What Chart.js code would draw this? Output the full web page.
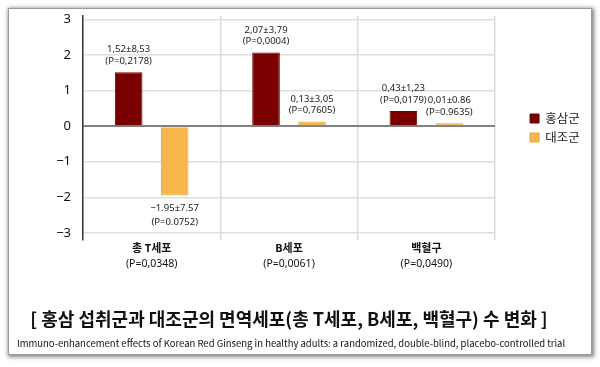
<!DOCTYPE html>
<html><head><meta charset="utf-8">
<script src="https://cdn.jsdelivr.net/npm/chart.js@4.4.1/dist/chart.umd.min.js"></script>
<style>
html,body{margin:0;padding:0;background:#fff;width:600px;height:367px;overflow:hidden}
#frame{position:absolute;left:8px;top:8px;width:584px;height:347px;box-sizing:border-box;border:1px solid #9a9a9a;box-shadow:1px 1px 4px 1px rgba(0,0,0,0.5);background:#fff}
#wrap{position:absolute;left:0;top:0;width:600px;height:367px}
#title{position:absolute;left:0;top:307px;width:578px;text-align:center;font-family:"Noto Sans CJK KR";font-weight:700;font-size:18px;line-height:22px;color:#111;white-space:nowrap}
#subtitle{position:absolute;left:0;top:337px;width:582px;text-align:center;font-family:"Noto Sans CJK KR";font-size:9.5px;line-height:12px;color:#111;white-space:nowrap}
</style></head><body>
<div id="frame"></div>
<div id="wrap"><canvas id="c" width="600" height="367"></canvas></div>
<div id="title"></div>
<div id="subtitle"></div>
<script>
const categories = ['총 T세포', 'B세포', '백혈구'];
const categoryPValues = ['(P=0,0348)', '(P=0,0061)', '(P=0,0490)'];
const seriesNames = ['홍삼군', '대조군'];
const redGinsengValues = [1.52, 2.07, 0.43];
const placeboValues = [-1.95, 0.13, 0.01];
const redGinsengLabels = [['1,52±8,53', '(P=0,2178)'], ['2,07±3,79', '(P=0,0004)'], ['0,43±1,23', '(P=0,0179)']];
const placeboLabels = [['−1.95±7.57', '(P=0.0752)'], ['0,13±3,05', '(P=0,7605)'], ['0,01±0.86', '(P=0.9635)']];
const yTicks = [-3, -2, -1, 0, 1, 2, 3];
const titleText = '[ 홍삼 섭취군과 대조군의 면역세포(총 T세포, B세포, 백혈구) 수 변화 ]';
const subtitleText = 'Immuno-enhancement effects of Korean Red Ginseng in healthy adults: a randomized, double-blind, placebo-controlled trial';

document.getElementById('title').textContent = titleText;
document.getElementById('subtitle').textContent = subtitleText;

const FONT = '"Noto Sans", "Noto Sans CJK KR", sans-serif';
const KFONT = '"Noto Sans CJK KR", "Noto Sans", sans-serif';

const barLabels = {
  id: 'barLabels',
  afterDatasetsDraw(chart) {
    const ctx = chart.ctx;
    ctx.save();
    ctx.font = '9.5px ' + FONT;
    ctx.fillStyle = '#222';
    ctx.textAlign = 'center';
    ctx.textBaseline = 'middle';
    chart.data.datasets.forEach((ds, i) => {
      const meta = chart.getDatasetMeta(i);
      meta.data.forEach((bar, j) => {
        const lines = ds.valueLabels[j];
        const v = ds.data[j];
        if (v >= 0) {
          const top = Math.min(bar.y, bar.base);
          ctx.fillText(lines[0], bar.x, top - 22.5);
          ctx.fillText(lines[1], bar.x, top - 11);
        } else {
          const bottom = Math.max(bar.y, bar.base);
          ctx.fillText(lines[0], bar.x, bottom + 13);
          ctx.fillText(lines[1], bar.x, bottom + 26.5);
        }
      });
    });
    ctx.restore();
  }
};

new Chart(document.getElementById('c'), {
  type: 'bar',
  data: {
    labels: categories,
    datasets: [
      { label: seriesNames[0], data: redGinsengValues, valueLabels: redGinsengLabels,
        backgroundColor: '#7a0000', borderColor: '#6a0000', borderWidth: 1 },
      { label: seriesNames[1], data: placeboValues, valueLabels: placeboLabels,
        backgroundColor: '#f5b64b', borderColor: '#e9a63a', borderWidth: 1 }
    ]
  },
  options: {
    responsive: false,
    animation: false,
    devicePixelRatio: 1,
    categoryPercentage: 0.67,
    barPercentage: 0.6,
    minBarLength: 3,
    layout: { padding: { left: 43, top: 16, right: 10.2, bottom: 84.9 } },
    scales: {
      x: {
        type: 'category',
        position: 'bottom',
        weight: 0,
        offset: true,
        grid: { display: true, offset: true, color: '#dcdcdc', lineWidth: 1.5, drawTicks: false },
        border: { display: false },
        ticks: { color: '#111', padding: 3.2, font: { family: FONT, size: 11, weight: 'bold', lineHeight: 1.1 } }
      },
      x2: {
        type: 'category',
        labels: categoryPValues,
        position: 'bottom',
        weight: 1,
        offset: true,
        grid: { display: false, drawTicks: false },
        border: { display: false },
        ticks: { color: '#111', padding: 5.5, crossAlign: 'center', font: { family: FONT, size: 10.5 } }
      },
      y: {
        type: 'linear',
        min: -3.2,
        max: 3.1,
        afterBuildTicks: s => { s.ticks = yTicks.map(v => ({ value: v })); },
        afterFit: s => { s.width = 40; },
        grid: {
          drawTicks: true,
          tickLength: 12,
          tickColor: 'rgba(0,0,0,0)',
          color: c => (c.tick && c.tick.value === 0) ? '#808080' : '#dedede',
          lineWidth: c => (c.tick && c.tick.value === 0) ? 2 : 1.5
        },
        border: { display: true, color: '#333', width: 1.5 },
        ticks: {
          color: '#111', padding: 0, font: { family: FONT, size: 13 },
          callback: v => v < 0 ? '−' + Math.abs(v) : String(v)
        }
      },
      spacer: {
        type: 'linear',
        position: 'right',
        display: true,
        grid: { display: false, drawTicks: false },
        border: { display: false },
        ticks: { display: false },
        afterFit: s => { s.width = 28.5; }
      }
    },
    plugins: {
      legend: {
        position: 'right',
        align: 'center',
        fullSize: false,
        labels: { boxWidth: 9, boxHeight: 9, padding: 6.5, color: '#222', font: { family: KFONT, size: 12.5 } }
      },
      tooltip: { enabled: false },
      title: { display: false }
    }
  },
  plugins: [barLabels]
});
</script>
</body></html>
